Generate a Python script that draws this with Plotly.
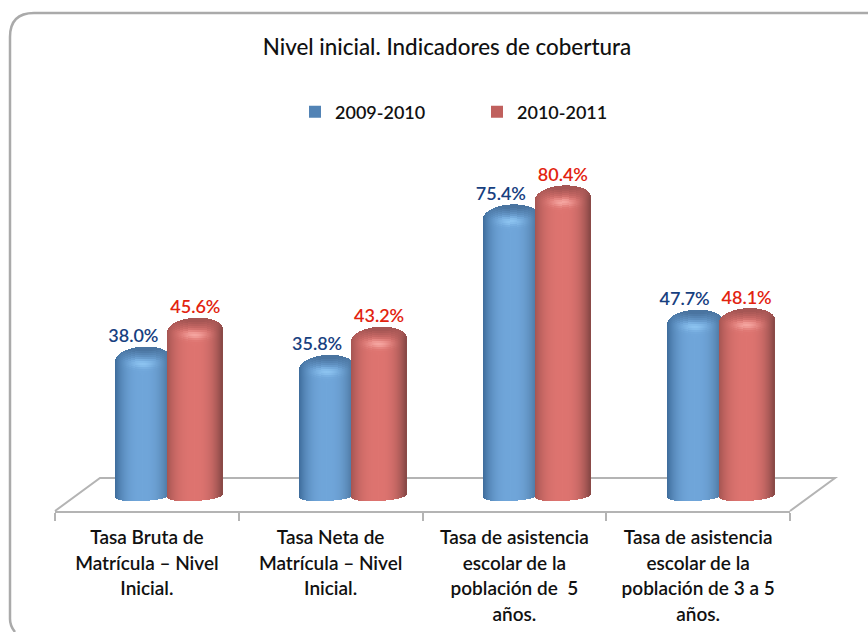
import math
import plotly.graph_objects as go

title = "Nivel inicial. Indicadores de cobertura"
series_names = ["2009-2010", "2010-2011"]
categories = [
    ["Tasa Bruta de", "Matrícula – Nivel", "Inicial."],
    ["Tasa Neta de", "Matrícula – Nivel", "Inicial."],
    ["Tasa de asistencia", "escolar de la", "población de  5", "años."],
    ["Tasa de asistencia", "escolar de la", "población de 3 a 5", "años."],
]
values_2009 = [38.0, 35.8, 75.4, 47.7]
values_2010 = [45.6, 43.2, 80.4, 48.1]

FONT = "Lato"
W, H = 868, 632
L, R, T, B = 55, 790, 30, 511
PX_PER_UNIT = 3.8
ZERO_PX = 491
CAT_PX = (R - L) / 4


def X(px):
    return (px - L) / (R - L)


def Y(px):
    return (B - px) / (B - T)


def mix(a, b, t):
    t = max(0.0, min(1.0, t))
    return tuple(a[i] + (b[i] - a[i]) * t for i in range(3))


def cylinder_trace(values, offset_px, width_px, edge_l, edge_r, light, cap, glow, name):
    xs, bases, heights, offs, colors = [], [], [], [], []
    ncol = int(width_px)
    step = width_px / ncol
    rows_px = 2.0
    cap_depth = 34
    for i, v in enumerate(values):
        for c in range(ncol):
            u = (c + 0.5) / ncol * 2 - 1
            prof = (1 - abs(u) ** 2.6) ** 1.0
            body = mix(edge_l if u < 0 else edge_r, light, prof)
            arc = math.sqrt(max(0, 1 - u * u))
            tilt = -1.5 * u
            top_px = 13 * (1 - arc) ** 1.0 + tilt
            bot_px = 5 + 5 * arc + tilt
            bot_v = -bot_px / PX_PER_UNIT
            left = offset_px + c * step
            # body below the cap
            body_top = v - cap_depth / PX_PER_UNIT
            xs.append(i); bases.append(bot_v); heights.append(body_top - bot_v + 0.1)
            offs.append(left / CAT_PX)
            colors.append("rgb(%d,%d,%d)" % body)
            # cap rows
            s = top_px
            while s < cap_depth:
                s2 = min(s + rows_px, cap_depth)
                sm = (s + s2) / 2
                dark = max(0.0, 1 - (sm - 4) / 10) * 0.95
                col = mix(body, cap, dark * (0.4 + 0.6 * arc))
                g = math.exp(-((u / 0.42) ** 2) - (((sm - 17) / 4.0) ** 2))
                col = mix(col, glow, g)
                y1 = v - s / PX_PER_UNIT
                y0 = v - (s2 + 0.5) / PX_PER_UNIT
                xs.append(i); bases.append(y0); heights.append(y1 - y0)
                offs.append(left / CAT_PX)
                colors.append("rgb(%d,%d,%d)" % col)
                s = s2
    return go.Bar(
        x=xs, y=heights, base=bases, offset=offs,
        width=[(step + 0.6) / CAT_PX] * len(xs),
        marker=dict(color=colors, line=dict(width=0)),
        showlegend=False, hoverinfo="skip", name=name,
    )


fig = go.Figure()
BLUE_OFF, RED_OFF = -31, 21
BAR_W = 55
fig.add_trace(cylinder_trace(values_2009, BLUE_OFF, BAR_W, (62, 108, 155), (70, 110, 150),
                             (112, 166, 218), (74, 116, 160), (140, 195, 240), series_names[0]))
fig.add_trace(cylinder_trace(values_2010, RED_OFF, BAR_W, (165, 85, 82), (135, 72, 70),
                             (222, 116, 112), (165, 86, 84), (245, 165, 160), series_names[1]))

# value labels
fig.add_trace(go.Scatter(
    x=[i + (BLUE_OFF + BAR_W / 2 - 10) / CAT_PX for i in range(4)], y=values_2009,
    mode="text", text=["%.1f%%" % v for v in values_2009], textposition="top center",
    textfont=dict(family=FONT, size=18, color="#17407f", weight=600),
    showlegend=False, hoverinfo="skip"))
fig.add_trace(go.Scatter(
    x=[i + (RED_OFF + BAR_W / 2) / CAT_PX for i in range(4)], y=values_2010,
    mode="text", text=["%.1f%%" % v for v in values_2010], textposition="top center",
    textfont=dict(family=FONT, size=18, color="#e2230f", weight=600),
    showlegend=False, hoverinfo="skip"))

# legend entries
for nm, col in zip(series_names, ["#5283b5", "#c0605d"]):
    fig.add_trace(go.Scatter(x=[None], y=[None], mode="markers", name=nm,
                             marker=dict(symbol="square", size=12, color=col)))

line_col = "#b4b4b4"
shapes = [
    dict(type="path", xref="paper", yref="paper", layer="below",
         path="M %f %f L %f %f L %f %f L %f %f" % (
             X(55), Y(511), X(100), Y(478), X(835), Y(478), X(790), Y(511)),
         line=dict(color=line_col, width=2)),
]
shapes.append(dict(
    type="path", xref="paper", yref="paper", layer="below",
    path="M %f %f Q %f %f %f %f L %f %f Q %f %f %f %f L %f %f" % (
        X(15), Y(632), X(10), Y(626), X(10), Y(619),
        X(10), Y(37), X(10), Y(13), X(34), Y(13), X(868), Y(13)),
    line=dict(color="#aaaaaa", width=2.5)))

ticktext = ["<br>".join('<span style="font-size:19px">%s</span>' % ln for ln in c) for c in categories]

fig.update_layout(
    width=W, height=H, autosize=False,
    margin=dict(l=L, r=W - R, t=T, b=H - B, pad=0),
    paper_bgcolor="white", plot_bgcolor="rgba(0,0,0,0)",
    barmode="overlay", bargap=0,
    font=dict(family=FONT, color="#111111"),
    title=dict(text=title, font=dict(family=FONT, size=22.4, color="#111111", weight=500),
               x=447 / W, xanchor="center", y=1 - 47 / H, yanchor="middle"),
    legend=dict(orientation="h", x=X(304), y=Y(112),
                yanchor="middle", xanchor="left", entrywidth=146, entrywidthmode="pixels",
                indentation=-9,
                font=dict(family=FONT, size=18, color="#111111", weight=600),
                bgcolor="rgba(0,0,0,0)"),
    shapes=shapes,
    xaxis=dict(range=[-0.5, 3.5], tickmode="array", tickvals=[0, 1, 2, 3], ticktext=ticktext,
               ticks="", showgrid=False, zeroline=False, showline=True, linecolor=line_col, linewidth=2,
               ticklabelstandoff=7, automargin=False,
               tickfont=dict(family=FONT, size=19.8, color="#111111", weight=600),
               minor=dict(tickmode="array", tickvals=[-0.5, 0.5, 1.5, 2.5, 3.5], ticks="outside",
                          ticklen=8, tickcolor=line_col, tickwidth=1.5, showgrid=False)),
    yaxis=dict(range=[(ZERO_PX - B) / PX_PER_UNIT, (ZERO_PX - T) / PX_PER_UNIT], visible=False,
               automargin=False),
)

fig.write_html("out.html", config=dict(displayModeBar=False),
               post_script="document.body.style.margin='0';")
